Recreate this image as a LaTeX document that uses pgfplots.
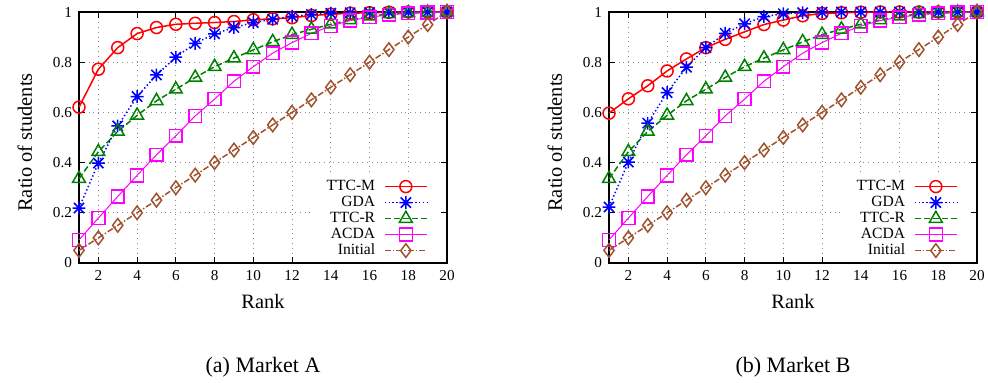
\documentclass[border=0pt]{standalone}
\usepackage{fontspec}
\setmainfont{Liberation Serif}
\usepackage{pgfplots}
\usepackage{pgfplotstable}
\pgfplotsset{compat=1.18}
\definecolor{cgreen}{RGB}{0,128,0}
\definecolor{cbrown}{RGB}{160,82,45}
\definecolor{cmag}{RGB}{255,0,255}

\pgfdeclareplotmark{starx}{%
  \pgfpathmoveto{\pgfqpoint{-\pgfplotmarksize}{0pt}}\pgfpathlineto{\pgfqpoint{\pgfplotmarksize}{0pt}}%
  \pgfpathmoveto{\pgfqpoint{0pt}{-\pgfplotmarksize}}\pgfpathlineto{\pgfqpoint{0pt}{\pgfplotmarksize}}%
  \pgfpathmoveto{\pgfqpoint{-0.8\pgfplotmarksize}{-0.8\pgfplotmarksize}}\pgfpathlineto{\pgfqpoint{0.8\pgfplotmarksize}{0.8\pgfplotmarksize}}%
  \pgfpathmoveto{\pgfqpoint{-0.8\pgfplotmarksize}{0.8\pgfplotmarksize}}\pgfpathlineto{\pgfqpoint{0.8\pgfplotmarksize}{-0.8\pgfplotmarksize}}%
  \pgfusepathqstroke}

\pgfplotstableread{
x TTCM GDA TTCR ACDA Init
1 0.621 0.219 0.336 0.092 0.05
2 0.772 0.398 0.443 0.179 0.10
3 0.858 0.546 0.524 0.265 0.15
4 0.914 0.663 0.588 0.349 0.20
5 0.938 0.749 0.646 0.431 0.25
6 0.951 0.820 0.692 0.507 0.30
7 0.955 0.875 0.739 0.586 0.35
8 0.958 0.913 0.782 0.653 0.40
9 0.962 0.938 0.816 0.724 0.45
10 0.969 0.958 0.849 0.782 0.50
11 0.973 0.971 0.881 0.836 0.55
12 0.977 0.983 0.910 0.878 0.60
13 0.986 0.990 0.931 0.915 0.65
14 0.991 0.995 0.951 0.944 0.70
15 0.995 0.997 0.968 0.966 0.75
16 0.997 0.998 0.983 0.979 0.80
17 0.999 0.999 0.992 0.989 0.85
18 1.000 1.000 0.996 0.995 0.90
19 1.000 1.000 0.998 0.998 0.95
20 1.000 1.000 1.000 1.000 1.00
}\marketA

\pgfplotstableread{
x TTCM GDA TTCR ACDA Init
1 0.597 0.223 0.336 0.092 0.05
2 0.654 0.402 0.443 0.179 0.10
3 0.706 0.557 0.524 0.265 0.15
4 0.765 0.679 0.588 0.349 0.20
5 0.813 0.780 0.646 0.431 0.25
6 0.858 0.858 0.692 0.507 0.30
7 0.891 0.915 0.739 0.586 0.35
8 0.921 0.953 0.782 0.653 0.40
9 0.950 0.982 0.816 0.724 0.45
10 0.968 0.993 0.849 0.782 0.50
11 0.985 0.997 0.881 0.836 0.55
12 0.994 0.999 0.910 0.878 0.60
13 0.997 1.000 0.931 0.915 0.65
14 0.999 1.000 0.951 0.944 0.70
15 1.000 1.000 0.968 0.966 0.75
16 1.000 1.000 0.983 0.979 0.80
17 1.000 1.000 0.992 0.989 0.85
18 1.000 1.000 0.996 0.995 0.90
19 1.000 1.000 0.998 0.998 0.95
20 1.000 1.000 1.000 1.000 1.00
}\marketB

\pgfplotsset{
  mystyle/.style={
    scale only axis, width=184pt, height=125.5pt,
    xmin=1, xmax=20, ymin=0, ymax=1,
    xtick={2,4,...,20}, ytick={0,0.2,0.4,0.6,0.8,1},
    grid=major, grid style={dotted, gray!90, line width=0.45pt},
    tick align=inside, major tick length=3pt,
    tick style={black, line width=0.45pt},
    axis line style={line width=0.7pt},
    ticklabel style={font=\rmfamily\fontsize{7.6}{8}\selectfont},
    /pgf/number format/assume math mode=true,
    label style={font=\rmfamily\fontsize{10.2}{11}\selectfont},
    xlabel=Rank, ylabel=Ratio of students,
    xlabel style={at={(axis description cs:0.5,-0.155)},anchor=center},
    ylabel style={at={(axis description cs:-0.147,0.48)},anchor=center},
    clip=false,
    legend plot pos=right,
    legend cell align=right,
    legend style={at={(rel axis cs:1,0)}, anchor=south east, xshift=-3.5pt, yshift=0.5pt,
      draw=none, fill=white, inner xsep=6pt, inner ysep=1.5pt,
      font=\rmfamily\fontsize{7.8}{8}\selectfont,
      nodes={text height=5.5pt, text depth=1.5pt, inner sep=0.5pt},
      row sep=0pt,
      /tikz/every odd column/.append style={column sep=4pt}},
    legend image code/.code={\draw[mark repeat=2,mark phase=2,##1] plot coordinates {(0pt,0pt) (10.5pt,0pt) (21pt,0pt)};},
  },
  sTTCM/.style={red, line width=0.75pt, solid, mark=o, mark size=3pt, mark options={solid}},
  sGDA/.style={blue, line width=0.75pt, dash pattern=on 0.7pt off 1.2pt, mark=starx, mark size=3.2pt, mark options={solid}},
  sTTCR/.style={cgreen, line width=0.75pt, dash pattern=on 3pt off 1.5pt, mark=triangle, mark size=3.7pt, mark options={solid}},
  sACDA/.style={cmag, line width=0.5pt, solid, mark=square, mark size=3.2pt, mark options={solid, line width=0.75pt}},
  sInit/.style={cbrown, line width=0.75pt, dash pattern=on 3pt off 1pt on 0.7pt off 1pt, mark=diamond, mark size=3.4pt, mark options={solid}},
}

\begin{document}
\begin{tikzpicture}
\useasboundingbox (-39.5pt,-60pt) rectangle (454.5pt,131.5pt);
\begin{axis}[mystyle, at={(0pt,0pt)}]
\addplot[sTTCM] table[x=x,y=TTCM] {\marketA};
\addlegendentry{TTC-M}
\addplot[sGDA] table[x=x,y=GDA] {\marketA};
\addlegendentry{GDA}
\addplot[sTTCR] table[x=x,y=TTCR] {\marketA};
\addlegendentry{TTC-R}
\addplot[sACDA] table[x=x,y=ACDA] {\marketA};
\addlegendentry{ACDA}
\addplot[sInit] table[x=x,y=Init] {\marketA};
\addlegendentry{Initial}
\end{axis}
\begin{axis}[mystyle, at={(265pt,0pt)}]
\addplot[sTTCM] table[x=x,y=TTCM] {\marketB};
\addlegendentry{TTC-M}
\addplot[sGDA] table[x=x,y=GDA] {\marketB};
\addlegendentry{GDA}
\addplot[sTTCR] table[x=x,y=TTCR] {\marketB};
\addlegendentry{TTC-R}
\addplot[sACDA] table[x=x,y=ACDA] {\marketB};
\addlegendentry{ACDA}
\addplot[sInit] table[x=x,y=Init] {\marketB};
\addlegendentry{Initial}
\end{axis}
\node[anchor=base, font=\rmfamily\fontsize{11}{12}\selectfont] at (92pt,-55pt) {(a) Market A};
\node[anchor=base, font=\rmfamily\fontsize{11}{12}\selectfont] at (357pt,-55pt) {(b) Market B};
\end{tikzpicture}
\end{document}
